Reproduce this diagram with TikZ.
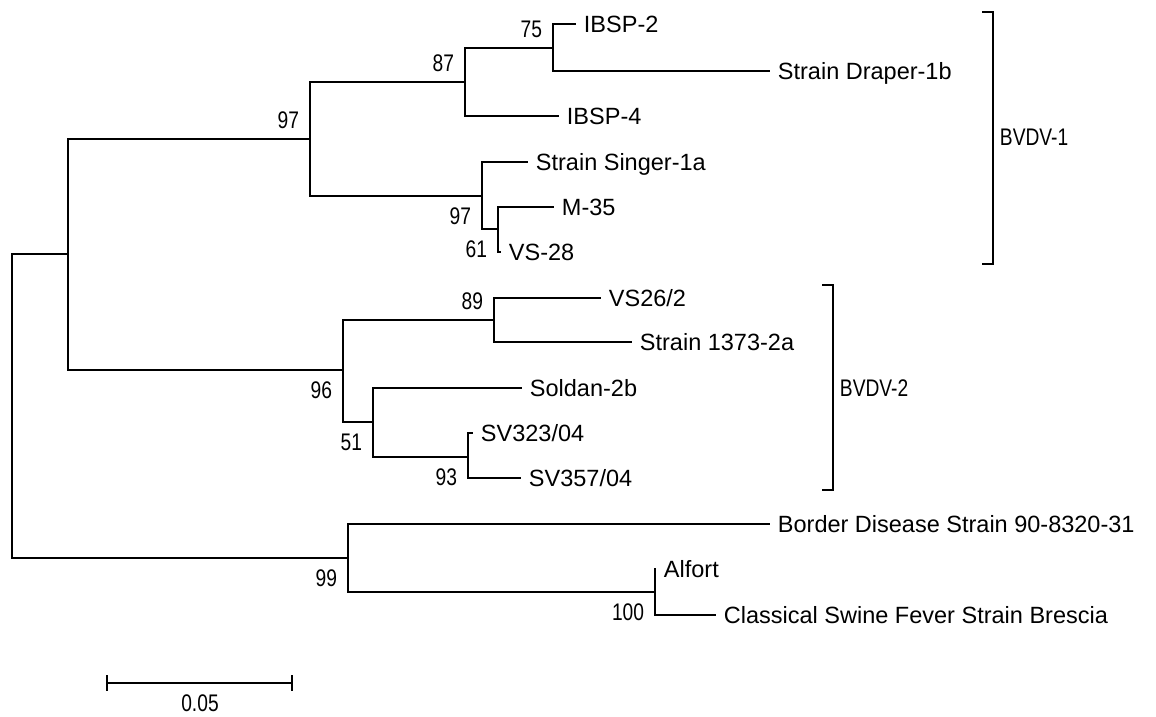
\documentclass[tikz,border=0pt]{standalone}
\usepackage{fontspec}
\setmainfont{Liberation Sans}
\newfontfamily\bootfont[FakeStretch=0.8]{Liberation Sans}
\usetikzlibrary{positioning}

\begin{document}
\begin{tikzpicture}[x=1pt,y=-1pt,line width=1.9pt,
  leaf/.style={anchor=west,inner xsep=7pt,inner ysep=0pt,text height=16.8pt,text depth=0pt,
    font=\fontsize{23.5}{28}\selectfont},
  boot/.style={inner sep=0pt,font=\bootfont\fontsize{24}{27}\selectfont},
  bsup/.style={boot,anchor=east,xshift=-10pt,yshift=19pt},
  bsdown/.style={boot,anchor=east,xshift=-10pt,yshift=-20pt},
  grp/.style={boot,anchor=west,inner xsep=6pt}]
  \useasboundingbox (0,0) rectangle (1156,716);
  \coordinate (root) at (12,406);
  \coordinate (nA) at (68,254);
  \coordinate (n97a) at (310,139);
  \coordinate (n87) at (465,82);
  \coordinate (n75) at (553,48);
  \coordinate (n97b) at (482,196);
  \coordinate (n61) at (498,229);
  \coordinate (n96) at (343,370);
  \coordinate (n89) at (494,320);
  \coordinate (n51) at (373,422);
  \coordinate (n93) at (468,457);
  \coordinate (n99) at (348,558);
  \coordinate (n100) at (655,592);
  \node[leaf] (ibsp2) at (576,24) {IBSP-2};
  \node[leaf] (draper) at (770,71) {Strain Draper-1b};
  \node[leaf] (ibsp4) at (559,116) {IBSP-4};
  \node[leaf] (singer) at (528,162) {Strain Singer-1a};
  \node[leaf] (m35) at (554,207) {M-35};
  \node[leaf] (vs28) at (501,252) {VS-28};
  \node[leaf] (vs26) at (601,298) {VS26/2};
  \node[leaf] (s1373) at (632,342) {Strain 1373-2a};
  \node[leaf] (soldan) at (522,388) {Soldan-2b};
  \node[leaf] (sv323) at (473,433) {SV323/04};
  \node[leaf] (sv357) at (521,478) {SV357/04};
  \node[leaf] (border) at (770,524) {Border Disease Strain 90-8320-31};
  \node[leaf] (alfort) at (656,569) {Alfort};
  \node[leaf] (brescia) at (716,615) {Classical Swine Fever Strain Brescia};
  \foreach \p/\c in {root/nA,root/n99,nA/n97a,nA/n96,n97a/n87,n97a/n97b,n87/n75,
    n97b/n61,n96/n89,n96/n51,n51/n93,n99/n100}
    \draw (\p) |- (\c);
  \foreach \p/\c in {n75/ibsp2,n75/draper,n87/ibsp4,n97b/singer,n61/m35,n61/vs28,
    n89/vs26,n89/s1373,n51/soldan,n93/sv323,n93/sv357,n99/border,n100/alfort,n100/brescia}
    \draw (\p) |- (\c.west);
  \node[bsup] at (n97a) {97};
  \node[bsup] at (n87) {87};
  \node[bsup] at (n75) {75};
  \node[bsdown] at (n97b) {97};
  \node[bsdown] at (n61) {61};
  \node[bsdown] at (n96) {96};
  \node[bsup] at (n89) {89};
  \node[bsdown] at (n51) {51};
  \node[bsdown] at (n93) {93};
  \node[bsdown] at (n99) {99};
  \node[bsdown] at (n100) {100};
  \coordinate (g1t) at (982,12);
  \coordinate (g1b) at (982,264);
  \coordinate (g2t) at (822,285);
  \coordinate (g2b) at (822,490);
  \draw (g1t) -- ++(11,0) |- (g1b);
  \draw (g2t) -- ++(11,0) |- (g2b);
  \node[grp] (bvdv1) at (993,137) {BVDV-1};
  \node[grp] (bvdv2) at (833,388) {BVDV-2};
  \coordinate (sbl) at (107,683);
  \coordinate (sbr) at (292,683);
  \draw (sbl) -- (sbr);
  \foreach \e in {sbl,sbr}
    \draw (\e) ++(0,-8) -- ++(0,16);
  \node[boot] (sblab) at (200,703) {0.05};
\end{tikzpicture}
\end{document}
